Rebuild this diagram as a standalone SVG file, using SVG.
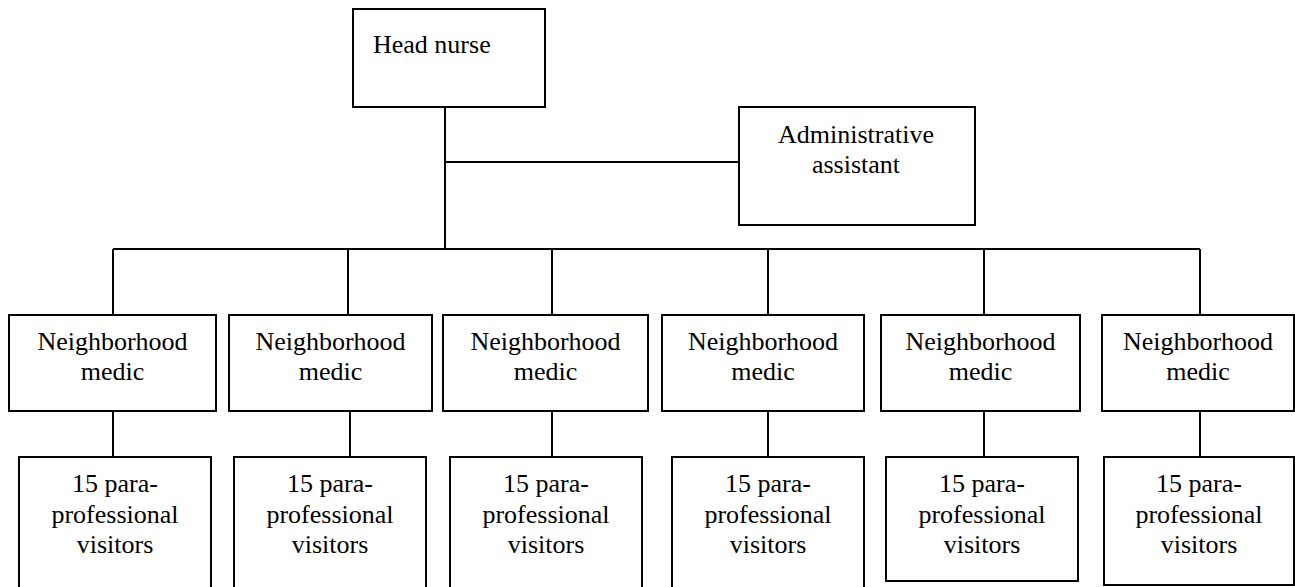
<svg xmlns="http://www.w3.org/2000/svg" width="1295" height="587" viewBox="0 0 1295 587">
<style>
.box{fill:#fff;stroke:#000;stroke-width:2}
.ln{stroke:#000;stroke-width:2;fill:none}
text{font-family:"Liberation Serif","Times New Roman",serif;font-size:26px;fill:#000}
.c{text-anchor:middle}
</style>
<rect width="1295" height="587" fill="#fff"/>
<g id="connectors">
<path class="ln" d="M445 107V249M445 162H739M113 249H1200"/>
<path class="ln" d="M113 249V315M348 249V315M552 249V315M768 249V315M984 249V315M1200 249V315"/>
<path class="ln" d="M113 411V457M350 411V457M552 411V457M768 411V457M984 411V457M1200 411V457"/>
</g>
<g id="head-nurse"><rect class="box" x="353" y="9" width="192" height="98"/><text x="373" y="53">Head nurse</text></g>
<g id="admin-assistant"><rect class="box" x="739" y="107" width="236" height="118"/><text class="c" x="856" y="143">Administrative</text><text class="c" x="856" y="173">assistant</text></g>
<g id="medic-1"><rect class="box" x="9" y="315" width="207" height="96"/><text class="c" x="112.5" y="350">Neighborhood</text><text class="c" x="112.5" y="380">medic</text></g>
<g id="medic-2"><rect class="box" x="229" y="315" width="203" height="96"/><text class="c" x="330.5" y="350">Neighborhood</text><text class="c" x="330.5" y="380">medic</text></g>
<g id="medic-3"><rect class="box" x="443" y="315" width="205" height="96"/><text class="c" x="545.5" y="350">Neighborhood</text><text class="c" x="545.5" y="380">medic</text></g>
<g id="medic-4"><rect class="box" x="662" y="315" width="202" height="96"/><text class="c" x="763" y="350">Neighborhood</text><text class="c" x="763" y="380">medic</text></g>
<g id="medic-5"><rect class="box" x="881" y="315" width="199" height="96"/><text class="c" x="980.5" y="350">Neighborhood</text><text class="c" x="980.5" y="380">medic</text></g>
<g id="medic-6"><rect class="box" x="1102" y="315" width="192" height="96"/><text class="c" x="1198" y="350">Neighborhood</text><text class="c" x="1198" y="380">medic</text></g>
<g id="visitors-1"><rect class="box" x="19" y="457" width="192" height="140"/><text class="c" x="115" y="492">15 para-</text><text class="c" x="115" y="523">professional</text><text class="c" x="115" y="553">visitors</text></g>
<g id="visitors-2"><rect class="box" x="234" y="457" width="192" height="140"/><text class="c" x="330" y="492">15 para-</text><text class="c" x="330" y="523">professional</text><text class="c" x="330" y="553">visitors</text></g>
<g id="visitors-3"><rect class="box" x="450" y="457" width="192" height="140"/><text class="c" x="546" y="492">15 para-</text><text class="c" x="546" y="523">professional</text><text class="c" x="546" y="553">visitors</text></g>
<g id="visitors-4"><rect class="box" x="672" y="457" width="192" height="140"/><text class="c" x="768" y="492">15 para-</text><text class="c" x="768" y="523">professional</text><text class="c" x="768" y="553">visitors</text></g>
<g id="visitors-5"><rect class="box" x="886" y="457" width="192" height="124"/><text class="c" x="982" y="492">15 para-</text><text class="c" x="982" y="523">professional</text><text class="c" x="982" y="553">visitors</text></g>
<g id="visitors-6"><rect class="box" x="1104" y="457" width="190" height="128"/><text class="c" x="1199" y="492">15 para-</text><text class="c" x="1199" y="523">professional</text><text class="c" x="1199" y="553">visitors</text></g>
</svg>
